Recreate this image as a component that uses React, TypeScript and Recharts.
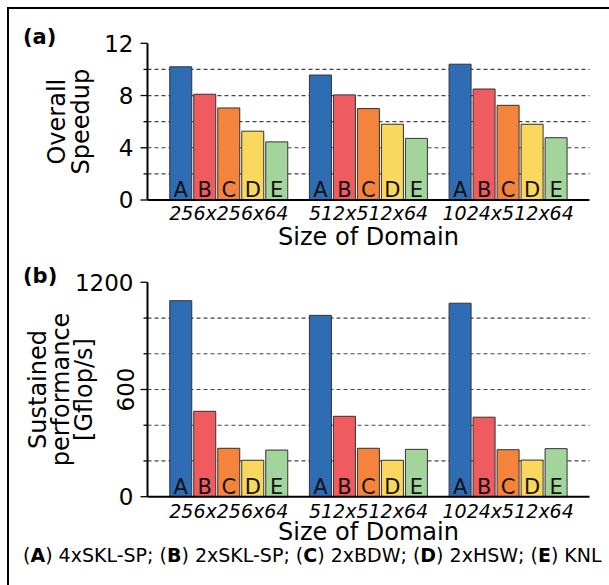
import { BarChart, Bar, XAxis, YAxis, CartesianGrid, LabelList } from "recharts";

const sizes = ["256x256x64", "512x512x64", "1024x512x64"];
const letters = ["A", "B", "C", "D", "E"];
const systems = ["4xSKL-SP", "2xSKL-SP", "2xBDW", "2xHSW", "KNL"];
const colors = ["#2e6db4", "#ef5b5e", "#f4843b", "#fad85d", "#a3d49b"];

// (a) overall speedup
const speedupA = [10.2, 9.57, 10.4];
const speedupB = [8.1, 8.05, 8.5];
const speedupC = [7.05, 7.0, 7.25];
const speedupD = [5.27, 5.8, 5.8];
const speedupE = [4.45, 4.72, 4.77];

// (b) sustained performance, Gflop/s
const perfA = [1097, 1015, 1083];
const perfB = [478, 450, 445];
const perfC = [271, 271, 263];
const perfD = [204, 204, 205];
const perfE = [261, 265, 269];

const speedupTicks = [0, 2, 4, 6, 8, 10, 12];
const speedupMajor = [0, 4, 8, 12];
const perfTicks = [0, 200, 400, 600, 800, 1000, 1200];
const perfMajor = [0, 600, 1200];

const FONT = "DejaVu Sans";

function buildRows(series: number[][]) {
  return sizes.map((size, i) => {
    const row: Record<string, string | number> = { size };
    letters.forEach((l, j) => {
      row[l] = series[j][i];
    });
    return row;
  });
}

const speedupRows = buildRows([speedupA, speedupB, speedupC, speedupD, speedupE]);
const perfRows = buildRows([perfA, perfB, perfC, perfD, perfE]);

function makeYTick(major: number[], rotated: number[]) {
  return (props: any) => {
    const { x, y, payload } = props;
    const value = Number(payload.value);
    const isMajor = major.includes(value);
    const tx = x - 14;
    return (
      <g>
        <line x1={x - (isMajor ? 7 : 4)} x2={x} y1={y} y2={y} stroke="#000" strokeWidth={1.3} />
        {isMajor &&
          (rotated.includes(value) ? (
            <g transform={`translate(${tx} ${y}) rotate(-90)`}>
              <text x={0} y={0} textAnchor="middle" fontSize={23} fontFamily={FONT} fill="#000">
                {value}
              </text>
            </g>
          ) : (
            <text x={tx} y={y} dy="0.36em" textAnchor="end" fontSize={23} fontFamily={FONT} fill="#000">
              {value}
            </text>
          ))}
      </g>
    );
  };
}

function makeXTick(dy: number) {
  return (props: any) => {
    const { x, y, payload } = props;
    return (
      <text x={x} y={y + dy} textAnchor="middle" fontSize={19} fontStyle="italic" fontFamily={FONT} fill="#000">
        {payload.value}
      </text>
    );
  };
}

function renderLetter(letter: string) {
  return (props: any) => {
    const vb = props.viewBox && props.viewBox.width != null ? props.viewBox : props;
    return (
      <text
        x={vb.x + vb.width / 2}
        y={vb.y + vb.height - 3}
        textAnchor="middle"
        fontSize={21}
        fontFamily={FONT}
        fill="#111"
      >
        {letter}
      </text>
    );
  };
}

interface PanelProps {
  rows: Record<string, string | number>[];
  yMax: number;
  ticks: number[];
  major: number[];
  rotated: number[];
  yLines: string[];
  yLineX: number[];
  height: number;
  top: number;
  xAxisHeight: number;
  xTickDy: number;
  xLabelDy: number;
}

function Panel(p: PanelProps) {
  const grid = p.ticks.filter((t) => t > 0 && t < p.yMax);
  return (
    <BarChart
      width={609}
      height={p.height}
      data={p.rows}
      margin={{ top: p.top, right: 19.5, left: 87.5, bottom: 0 }}
      barCategoryGap="7.7%"
      barGap={2}
    >
      <CartesianGrid
        vertical={false}
        horizontalValues={grid}
        stroke="#444"
        strokeWidth={1.2}
        strokeDasharray="4 3"
      />
      <XAxis
        dataKey="size"
        height={p.xAxisHeight}
        padding={{ left: 11.5, right: 11.5 }}
        tickLine={false}
        tickSize={0}
        tickMargin={0}
        interval={0}
        axisLine={{ stroke: "#000", strokeWidth: 2 }}
        tick={makeXTick(p.xTickDy)}
        label={{
          content: (lp: any) => {
            const vb = lp.viewBox;
            return (
              <text
                x={vb.x + vb.width / 2}
                y={vb.y + p.xLabelDy}
                textAnchor="middle"
                fontSize={24}
                fontFamily={FONT}
                fill="#000"
              >
                Size of Domain
              </text>
            );
          },
        }}
      />
      <XAxis
        xAxisId="frame"
        orientation="top"
        dataKey="size"
        height={0}
        tick={false}
        tickLine={false}
        axisLine={{ stroke: "#000", strokeWidth: 2 }}
      />
      <YAxis
        type="number"
        domain={[0, p.yMax]}
        ticks={p.ticks}
        interval={0}
        width={60}
        tickLine={false}
        tickSize={0}
        tickMargin={0}
        axisLine={{ stroke: "#000", strokeWidth: 2 }}
        tick={makeYTick(p.major, p.rotated)}
        label={{
          content: (lp: any) => {
            const vb = lp.viewBox;
            const cy = vb.y + vb.height / 2;
            return (
              <g>
                {p.yLines.map((line, i) => (
                  <g key={line} transform={`translate(${p.yLineX[i]} ${cy}) rotate(-90)`}>
                    <text x={0} y={0} textAnchor="middle" fontSize={24} fontFamily={FONT} fill="#000">
                      {line}
                    </text>
                  </g>
                ))}
              </g>
            );
          },
        }}
      />
      <YAxis
        yAxisId="frame"
        orientation="right"
        type="number"
        domain={[0, 1]}
        width={0}
        tick={false}
        tickLine={false}
        axisLine={{ stroke: "#000", strokeWidth: 2 }}
      />
      {letters.map((l, j) => (
        <Bar key={l} dataKey={l} fill={colors[j]} stroke="#333" strokeWidth={1} isAnimationActive={false}>
          <LabelList dataKey={l} content={renderLetter(l)} />
        </Bar>
      ))}
    </BarChart>
  );
}

const textBox = {
  position: "absolute" as const,
  lineHeight: 1,
  whiteSpace: "nowrap" as const,
  color: "#000",
  fontFamily: FONT,
};

export default function App() {
  return (
    <div
      style={{
        position: "absolute",
        left: 0,
        top: 0,
        width: 609,
        height: 585,
        background: "#fff",
        overflow: "hidden",
        fontFamily: FONT,
      }}
    >
      <div
        style={{
          position: "absolute",
          left: 7,
          top: 7,
          right: -10,
          bottom: -10,
          borderLeft: "2px solid #000",
          borderTop: "2px solid #000",
        }}
      />
      <div style={{ position: "absolute", left: 0, top: 0 }}>
        <Panel
          rows={speedupRows}
          yMax={12}
          ticks={speedupTicks}
          major={speedupMajor}
          rotated={[]}
          yLines={["Overall", "Speedup"]}
          yLineX={[65, 89]}
          height={250}
          top={43.3}
          xAxisHeight={50}
          xTickDy={20}
          xLabelDy={44.5}
        />
      </div>
      <div style={{ position: "absolute", left: 0, top: 250 }}>
        <Panel
          rows={perfRows}
          yMax={1200}
          ticks={perfTicks}
          major={perfMajor}
          rotated={[600]}
          yLines={["Sustained", "performance", "[Gflop/s]"]}
          yLineX={[46, 69, 92]}
          height={335}
          top={32.3}
          xAxisHeight={88.3}
          xTickDy={21.5}
          xLabelDy={43.5}
        />
      </div>
      <div style={{ ...textBox, left: 23, top: 27, fontSize: 21, fontWeight: "bold" }}>(a)</div>
      <div style={{ ...textBox, left: 23, top: 266, fontSize: 21, fontWeight: "bold" }}>(b)</div>
      <div style={{ ...textBox, left: 23, top: 545.5, fontSize: 19 }}>
        {letters.map((l, i) => (
          <span key={l}>
            (<b>{l}</b>) {systems[i]}
            {i < letters.length - 1 ? "; " : ""}
          </span>
        ))}
      </div>
    </div>
  );
}
